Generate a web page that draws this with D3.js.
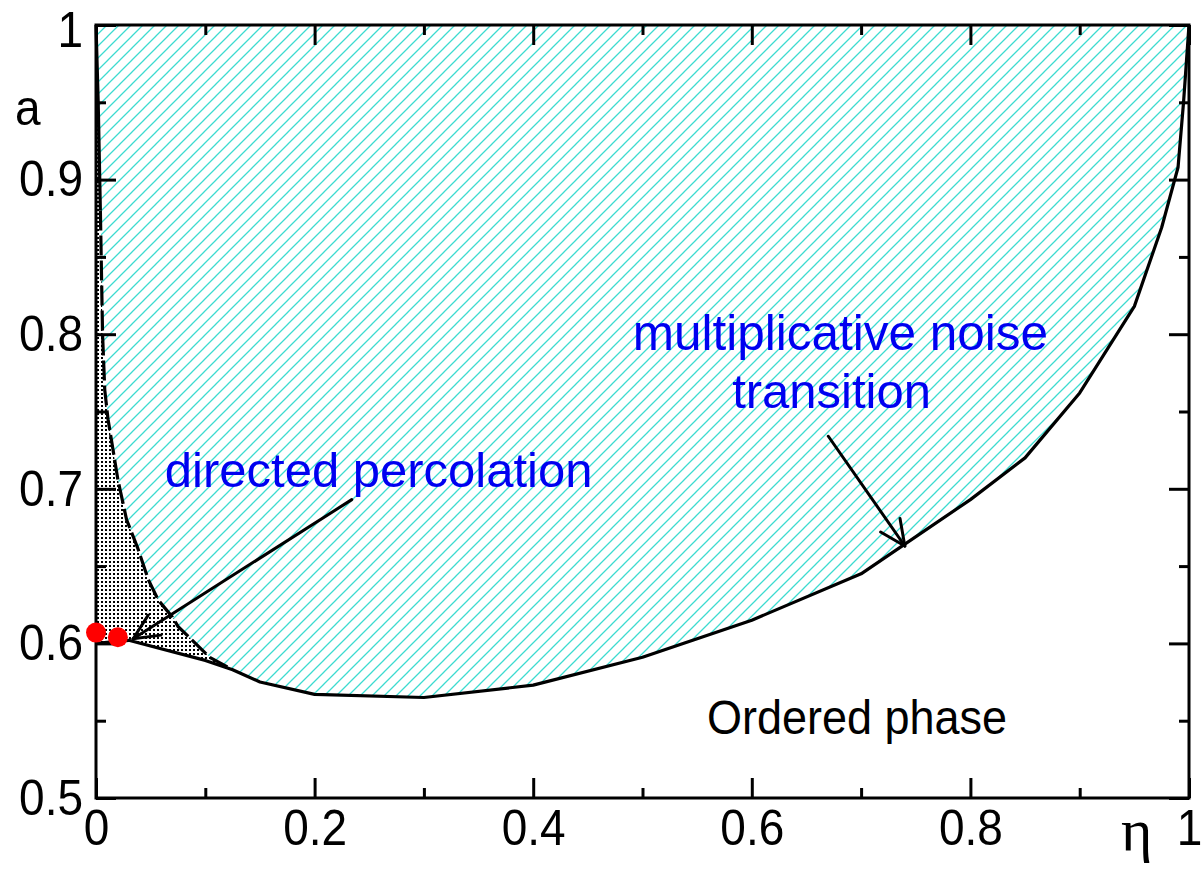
<!DOCTYPE html>
<html>
<head>
<meta charset="utf-8">
<script src="https://cdn.jsdelivr.net/npm/d3@7"></script>
<style>
  html, body { margin: 0; padding: 0; background: #fff; }
  svg { display: block; font-family: "Liberation Sans", Arial, sans-serif; }
</style>
</head>
<body>
<svg id="chart" width="1202" height="875"></svg>
<script>
// Directed-percolation line (left boundary of the hatched region)
const dpEta = [0.000, 0.002, 0.004, 0.006, 0.008, 0.011, 0.020, 0.028, 0.038, 0.048, 0.057, 0.070, 0.075, 0.104, 0.125];
const dpA   = [1.000, 0.950, 0.880, 0.800, 0.764, 0.745, 0.706, 0.680, 0.662, 0.641, 0.628, 0.617, 0.611, 0.591, 0.583];

// Lower boundary: ordered phase / multiplicative noise transition
const mnEta = [0.000, 0.030, 0.100, 0.125, 0.150, 0.200, 0.300, 0.400, 0.500, 0.600, 0.700, 0.800, 0.850, 0.900, 0.950, 0.975, 0.990, 0.995, 1.000];
const mnA   = [0.600, 0.602, 0.589, 0.583, 0.575, 0.567, 0.565, 0.573, 0.591, 0.615, 0.645, 0.693, 0.720, 0.762, 0.818, 0.869, 0.908, 0.950, 1.000];

// Marked points on the a-axis side
const dotEta = [0.000, 0.020];
const dotA   = [0.607, 0.604];

// Axis ticks
const xMajor = [0, 0.2, 0.4, 0.6, 0.8, 1];
const xLabels = ["0", "0.2", "0.4", "0.6", "0.8", "1"];
const xMinor = [0.1, 0.3, 0.5, 0.7, 0.9];
const yMajor = [0.5, 0.6, 0.7, 0.8, 0.9, 1];
const yLabels = ["0.5", "0.6", "0.7", "0.8", "0.9", "1"];
const yMinor = [0.55, 0.65, 0.75, 0.85, 0.95];

const svg = d3.select("#chart");
const x = d3.scaleLinear().domain([0, 1]).range([96, 1189]);
const y = d3.scaleLinear().domain([0.5, 1]).range([798, 25]);

const dp = dpEta.map((e, i) => [e, dpA[i]]);
const mn = mnEta.map((e, i) => [e, mnA[i]]);

// Patterns: diagonal turquoise hatching and black stipple
const defs = svg.append("defs");
const T = 12;
const hatch = defs.append("pattern")
  .attr("id", "hatch")
  .attr("patternUnits", "userSpaceOnUse")
  .attr("width", T).attr("height", T);
hatch.append("path")
  .attr("d", `M-1,${T + 1} L${T + 1},-1 M-1,1 L1,-1 M${T - 1},${T + 1} L${T + 1},${T - 1}`)
  .attr("stroke", "#3ddbd0").attr("stroke-width", 1.3).attr("fill", "none");

const stip = defs.append("pattern")
  .attr("id", "stipple")
  .attr("patternUnits", "userSpaceOnUse")
  .attr("width", 4).attr("height", 4);
stip.append("rect").attr("width", 4).attr("height", 4).attr("fill", "#fff");
stip.append("rect").attr("x", 1).attr("y", 1).attr("width", 2).attr("height", 2)
  .attr("fill", "#000");

const line = d3.line().x(d => x(d[0])).y(d => y(d[1]));

// Hatched region: between DP line, transition line and the top edge
const cornerIdx = mnEta.indexOf(0.125);
const hatchPoly = dp.concat(mn.slice(cornerIdx + 1)).concat([[1, 1], [0, 1]]);
svg.append("path")
  .attr("d", line(hatchPoly) + "Z")
  .attr("fill", "url(#hatch)");

// Stippled region: between a-axis, DP line and lower line
const stipPoly = [[0, 1]].concat(mn.slice(0, cornerIdx + 1)).concat(dp.slice().reverse());
svg.append("path")
  .attr("d", line(stipPoly) + "Z")
  .attr("fill", "url(#stipple)");

// DP line: solid near the top, dashed below
svg.append("path")
  .attr("d", line(dp.filter(d => d[1] >= 0.88)))
  .attr("fill", "none").attr("stroke", "#000").attr("stroke-width", 3.2);
svg.append("path")
  .attr("d", line(dp.filter(d => d[1] <= 0.88)))
  .attr("fill", "none").attr("stroke", "#000").attr("stroke-width", 3.2)
  .attr("stroke-dasharray", "20 5");

// Transition line
svg.append("path")
  .attr("d", line(mn))
  .attr("fill", "none").attr("stroke", "#000").attr("stroke-width", 3.2)
  .attr("stroke-linejoin", "round");

// Axes with inward ticks on all four sides
function styleAxis(g) {
  g.select(".domain").remove();
  g.selectAll(".tick line").attr("stroke", "#000").attr("stroke-width", 3);
}
const fs = 46;
const gx = svg.append("g").attr("transform", `translate(0,${y(0.5)})`)
  .call(d3.axisBottom(x).tickValues(xMajor).tickSize(-20).tickPadding(10)
    .tickFormat((d, i) => xLabels[i]));
svg.append("g").attr("transform", `translate(0,${y(0.5)})`)
  .call(d3.axisBottom(x).tickValues(xMinor).tickSize(-10).tickFormat(""))
  .call(styleAxis);
svg.append("g").attr("transform", `translate(0,${y(1)})`)
  .call(d3.axisTop(x).tickValues(xMajor).tickSize(-20).tickFormat(""))
  .call(styleAxis);
svg.append("g").attr("transform", `translate(0,${y(1)})`)
  .call(d3.axisTop(x).tickValues(xMinor).tickSize(-10).tickFormat(""))
  .call(styleAxis);
const gy = svg.append("g").attr("transform", `translate(${x(0)},0)`)
  .call(d3.axisLeft(y).tickValues(yMajor).tickSize(-20).tickPadding(13)
    .tickFormat((d, i) => yLabels[i]));
svg.append("g").attr("transform", `translate(${x(0)},0)`)
  .call(d3.axisLeft(y).tickValues(yMinor).tickSize(-10).tickFormat(""))
  .call(styleAxis);
svg.append("g").attr("transform", `translate(${x(1)},0)`)
  .call(d3.axisRight(y).tickValues(yMajor).tickSize(-20).tickFormat(""))
  .call(styleAxis);
svg.append("g").attr("transform", `translate(${x(1)},0)`)
  .call(d3.axisRight(y).tickValues(yMinor).tickSize(-10).tickFormat(""))
  .call(styleAxis);
[gx, gy].forEach(g => {
  styleAxis(g);
  g.selectAll(".tick text")
    .attr("font-family", "'Liberation Sans', Arial, sans-serif")
    .attr("font-size", fs).attr("fill", "#000")
    .attr("transform", "scale(1,1.1)");
});
// keep the topmost a-label fully inside the canvas
gy.selectAll(".tick text").filter(d => d === 1).attr("dy", "0.42em");

// Frame
svg.append("rect")
  .attr("x", x(0)).attr("y", y(1))
  .attr("width", x(1) - x(0)).attr("height", y(0.5) - y(1))
  .attr("fill", "none").attr("stroke", "#000").attr("stroke-width", 3);

// Arrows with open heads
function arrow(from, to) {
  const x0 = x(from[0]), y0 = y(from[1]), x1 = x(to[0]), y1 = y(to[1]);
  const ang = Math.atan2(y0 - y1, x0 - x1);
  const L = 28, spread = 25 * Math.PI / 180;
  const g = svg.append("g").attr("stroke", "#000").attr("stroke-width", 3)
    .attr("fill", "none").attr("stroke-linecap", "round");
  g.append("line").attr("x1", x0).attr("y1", y0).attr("x2", x1).attr("y2", y1);
  [-spread, spread].forEach(s => {
    g.append("line").attr("x1", x1).attr("y1", y1)
      .attr("x2", x1 + L * Math.cos(ang + s)).attr("y2", y1 + L * Math.sin(ang + s));
  });
}
arrow([0.234, 0.693], [0.034, 0.603]);
arrow([0.670, 0.734], [0.740, 0.663]);

// Points
svg.selectAll("circle.pt").data(dotEta.map((e, i) => [e, dotA[i]]))
  .enter().append("circle").attr("class", "pt")
  .attr("cx", d => x(d[0])).attr("cy", d => y(d[1])).attr("r", 10)
  .attr("fill", "#ff0000");

// Text labels
function label(txt, ex, ay, size, color, sy) {
  svg.append("text")
    .attr("transform", `translate(${x(ex)},${y(ay)}) scale(1,${sy})`)
    .attr("font-size", size).attr("fill", color)
    .attr("font-family", "'Liberation Sans', Arial, sans-serif")
    .text(txt);
}
label("directed percolation", 0.063, 0.701, 49, "#0000f0", 1.0);
label("multiplicative noise", 0.491, 0.790, 49.5, "#0000f0", 1.0);
label("transition", 0.582, 0.7525, 49, "#0000f0", 1.0);
label("Ordered phase", 0.559, 0.5415, 45, "#000", 1.08);

svg.append("text").attr("transform", "translate(15,125) scale(1,1.1)")
  .attr("font-size", 46).text("a");
svg.append("text").attr("transform", "translate(1121,850)")
  .attr("font-size", 60).attr("font-family", "'Liberation Serif', serif").text("η");
</script>
</body>
</html>
